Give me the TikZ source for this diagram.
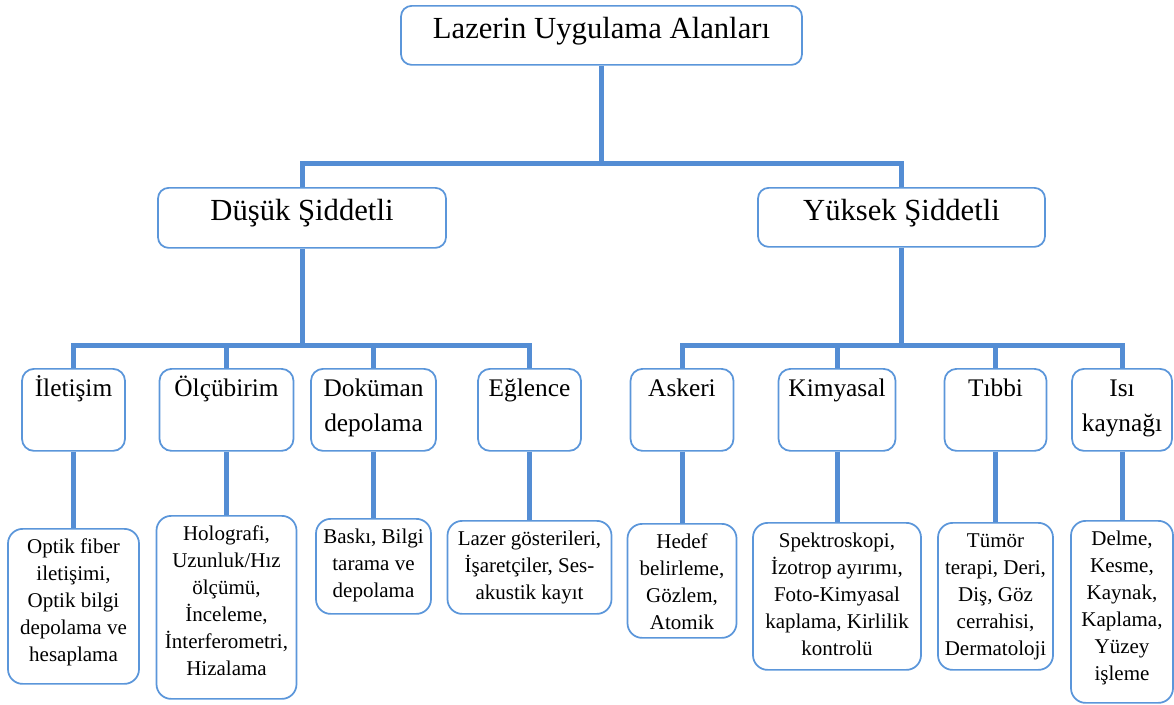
\documentclass[tikz,border=0pt]{standalone}
\usepackage{fontspec}
\setmainfont{Liberation Serif}
\usepackage{tikz}

\definecolor{cizgimavi}{RGB}{84,141,212}
\definecolor{kutumavi}{RGB}{91,150,218}

% width, height, first baseline, text
\newcommand{\kutu}[4]{\parbox[c][#2][t]{#1}{\centering\rule{0pt}{#3}#4}}

\tikzset{
  anakutu/.style={draw=kutumavi, line width=1.3pt, rounded corners=8pt, fill=white, inner sep=0pt, anchor=north, font=\fontsize{23}{27}\selectfont},
  altkutu/.style={draw=kutumavi, line width=1.3pt, rounded corners=9pt, fill=white, inner sep=0pt, anchor=north, font=\fontsize{19}{26.25}\selectfont},
  yaprak/.style={draw=kutumavi, line width=1.3pt, rounded corners=11pt, fill=white, inner sep=0pt, anchor=north, font=\fontsize{15.75}{20.25}\selectfont},
  baglanti/.style={draw=cizgimavi, line width=3.75pt}
}

\begin{document}
\begin{tikzpicture}[x=0.75pt,y=0.75pt,yscale=-1,xscale=1]
        \useasboundingbox (0,0) rectangle (1174,704);

        % Text Node
        \node [anakutu] (ana) at (601.5,5) {\kutu{300.75pt}{44.25pt}{24.75pt}{Lazerin Uygulama Alanları}};
        % Text Node
        \node [anakutu] (dusuk) at (302,187) {\kutu{216pt}{45pt}{24.75pt}{Düşük Şiddetli}};
        % Text Node
        \node [anakutu] (yuksek) at (901.5,187) {\kutu{215.25pt}{44.25pt}{24.75pt}{Yüksek Şiddetli}};

        % Text Node
        \node [altkutu] (ilet) at (73.5,368) {\kutu{77.25pt}{61.5pt}{21pt}{İletişim}};
        % Text Node
        \node [altkutu] (olcu) at (226.5,368) {\kutu{100.5pt}{61.5pt}{21pt}{Ölçübirim}};
        % Text Node
        \node [altkutu] (dokuman) at (373.5,368) {\kutu{93.75pt}{61.5pt}{21pt}{Doküman\\depolama}};
        % Text Node
        \node [altkutu] (eglence) at (529.5,368) {\kutu{77.25pt}{61.5pt}{21pt}{Eğlence}};
        % Text Node
        \node [altkutu] (askeri) at (682,368) {\kutu{77.25pt}{61.5pt}{21pt}{Askeri}};
        % Text Node
        \node [altkutu] (kimya) at (837,368) {\kutu{87.75pt}{61.5pt}{21pt}{Kimyasal}};
        % Text Node
        \node [altkutu] (tibbi) at (995.5,368) {\kutu{76.5pt}{61.5pt}{21pt}{Tıbbi}};
        % Text Node
        \node [altkutu] (isi) at (1122,368) {\kutu{75pt}{61.5pt}{21pt}{Isı\\kaynağı}};

        % Text Node
        \node [yaprak] (optik) at (73.5,528) {\kutu{98.25pt}{116.25pt}{18.75pt}{Optik fiber\\iletişimi,\\Optik bilgi\\depolama ve\\hesaplama}};
        % Text Node
        \node [yaprak] (holo) at (226.5,515) {\kutu{105pt}{137.25pt}{18.75pt}{Holografi,\\Uzunluk/Hız\\ölçümü,\\İnceleme,\\İnterferometri,\\Hizalama}};
        % Text Node
        \node [yaprak] (baski) at (373.5,518) {\kutu{86.25pt}{71.25pt}{18.75pt}{Baskı, Bilgi\\tarama ve\\depolama}};
        % Text Node
        \node [yaprak] (lazer) at (529.5,520) {\kutu{123pt}{69.75pt}{18.75pt}{Lazer gösterileri,\\İşaretçiler, Ses-\\akustik kayıt}};
        % Text Node
        \node [yaprak] (hedef) at (682,523) {\kutu{81.75pt}{85.5pt}{18.75pt}{Hedef\\belirleme,\\Gözlem,\\Atomik}};
        % Text Node
        \node [yaprak] (spektro) at (837,522) {\kutu{126pt}{110.25pt}{18.75pt}{Spektroskopi,\\İzotrop ayırımı,\\Foto-Kimyasal\\kaplama, Kirlilik\\kontrolü}};
        % Text Node
        \node [yaprak] (tumor) at (995.5,522) {\kutu{86.25pt}{110.25pt}{18.75pt}{Tümör\\terapi, Deri,\\Diş, Göz\\cerrahisi,\\Dermatoloji}};
        % Text Node
        \node [yaprak] (delme) at (1122,520) {\kutu{76.5pt}{136.5pt}{18.75pt}{Delme,\\Kesme,\\Kaynak,\\Kaplama,\\Yüzey\\işleme}};

        %Straight Lines
        \coordinate (k0) at (601.5,163);
        \coordinate (k1) at (302,345);
        \coordinate (k2) at (901.5,345);
        \draw [baglanti] (ana) -- (k0) -| (dusuk);
        \draw [baglanti] (k0) -| (yuksek);
        \draw [baglanti] (dusuk) -- (k1) -| (ilet);
        \draw [baglanti] (k1) -| (olcu);
        \draw [baglanti] (k1) -| (dokuman);
        \draw [baglanti] (k1) -| (eglence);
        \draw [baglanti] (yuksek) -- (k2) -| (askeri);
        \draw [baglanti] (k2) -| (kimya);
        \draw [baglanti] (k2) -| (tibbi);
        \draw [baglanti] (k2) -| (isi);

        %Straight Lines
        \draw [baglanti] (ilet) -- (optik);
        \draw [baglanti] (olcu) -- (holo);
        \draw [baglanti] (dokuman) -- (baski);
        \draw [baglanti] (eglence) -- (lazer);
        \draw [baglanti] (askeri) -- (hedef);
        \draw [baglanti] (kimya) -- (spektro);
        \draw [baglanti] (tibbi) -- (tumor);
        \draw [baglanti] (isi) -- (delme);

\end{tikzpicture}
\end{document}
